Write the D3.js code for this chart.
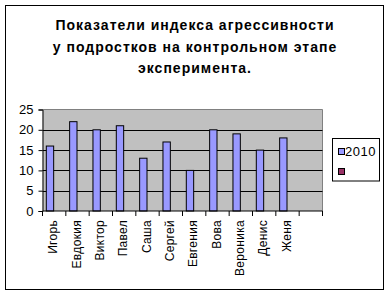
<!DOCTYPE html>
<html>
<head>
<meta charset="utf-8">
<script src="https://cdn.jsdelivr.net/npm/d3@7"></script>
<style>
	body { margin: 0; background: #fff; }
	text { font-family: "Liberation Sans", Arial, sans-serif; fill: #000; }
</style>
</head>
<body>
<div id="chart"></div>
<script>
'use strict';

let names = ['Игорь', 'Евдокия', 'Виктор', 'Павел', 'Саша', 'Сергей', 'Евгения', 'Вова', 'Вероника', 'Денис', 'Женя', ''];
let series = ['2010', ''];
let values2010 = [16, 22, 20, 21, 13, 17, 10, 20, 19, 15, 18, null];
let valuesEmpty = [null, null, null, null, null, null, null, null, null, null, null, null];
let yTicks = [0, 5, 10, 15, 20, 25];
let titleLines = ['Показатели индекса агрессивности', 'у подростков на контрольном этапе', 'эксперимента.'];
let colors = ['#9999ff', '#993366'];

let svg = d3.select('#chart')
	.append('svg')
		.attr('width', 390)
		.attr('height', 295)
	;

svg.append('rect')
	.attr('x', 5.5).attr('y', 5.5).attr('width', 378).attr('height', 284)
	.attr('fill', '#fff').attr('stroke', '#000').attr('stroke-width', 1)
	;

let title = svg.append('g');
for (let i=0 ; i<titleLines.length ; ++i) {
	title.append('text')
		.attr('x', 195)
		.attr('y', 30 + i*21.5)
		.attr('text-anchor', 'middle')
		.style('font-size', '14px')
		.style('font-weight', 'bold')
		.style('letter-spacing', '1px')
		.text(titleLines[i])
		;
}

let pLeft = 42.5, pRight = 322.5, pTop = 109.5, pBottom = 211;

let x0 = d3.scaleBand().domain(d3.range(names.length)).range([pLeft, pRight]).padding(0);
let x1 = d3.scaleBand().domain(series).range([3.8, x0.bandwidth() - 4.8]).padding(0);
let y = d3.scaleLinear().domain([0, 25]).range([pBottom, pTop]);

svg.append('rect')
	.attr('x', pLeft).attr('y', pTop).attr('width', pRight - pLeft).attr('height', pBottom - pTop)
	.attr('fill', '#c0c0c0')
	;
svg.append('path')
	.attr('d', `M${pLeft},${pTop}H${pRight}V${pBottom}`)
	.attr('fill', 'none').attr('stroke', '#808080')
	;

let grid = svg.append('g');
grid.selectAll('line').data(yTicks.filter(d => d > 0 && d < 25)).join('line')
	.attr('x1', pLeft).attr('x2', pRight)
	.attr('y1', d => Math.round(y(d)) + 0.5).attr('y2', d => Math.round(y(d)) + 0.5)
	.attr('stroke', '#000')
	;

let all = [values2010, valuesEmpty];
let bars = svg.append('g');
for (let s=0 ; s<series.length ; ++s) {
	bars.selectAll('rect.s'+s).data(all[s].map((v, i) => ({v: v, i: i})).filter(d => d.v != null)).join('rect')
		.classed('s'+s, true)
		.attr('x', d => x0(d.i) + x1(series[s]))
		.attr('y', d => y(d.v))
		.attr('width', x1.bandwidth())
		.attr('height', d => pBottom - y(d.v))
		.attr('fill', colors[s])
		.attr('stroke', '#000')
		;
}

let yAxis = svg.append('g')
	.attr('transform', `translate(${pLeft},0)`)
	.call(d3.axisLeft(y).tickValues(yTicks).tickSize(4).tickPadding(5))
	;
yAxis.selectAll('text').style('font-size', '13px');
yAxis.select('.domain').attr('stroke', '#000');

let xAxis = svg.append('g')
	.attr('transform', `translate(0,${pBottom})`)
	;
xAxis.append('line').attr('x1', pLeft).attr('x2', pRight).attr('stroke', '#000');
xAxis.selectAll('line.tick').data(d3.range(names.length + 1)).join('line')
	.classed('tick', true)
	.attr('x1', d => pLeft + d*x0.bandwidth()).attr('x2', d => pLeft + d*x0.bandwidth())
	.attr('y1', 0).attr('y2', 5)
	.attr('stroke', '#000')
	;
xAxis.selectAll('text').data(names).join('text')
	.attr('transform', (d, i) => `translate(${x0(i) + x0.bandwidth()/2 + 3},9) rotate(-90)`)
	.attr('text-anchor', 'end')
	.style('font-size', '12px')
	.style('letter-spacing', '0.3px')
	.text(d => d)
	;

let legend = svg.append('g');
legend.append('rect')
	.attr('x', 332.5).attr('y', 138.5).attr('width', 47).attr('height', 42.5)
	.attr('fill', '#fff').attr('stroke', '#000')
	;
for (let s=0 ; s<series.length ; ++s) {
	legend.append('rect')
		.attr('x', 338.5).attr('y', 148.5 + s*20).attr('width', 6).attr('height', 6)
		.attr('fill', colors[s]).attr('stroke', '#000')
		;
	legend.append('text')
		.attr('x', 345).attr('y', 156 + s*20)
		.style('font-size', '13px')
		.style('letter-spacing', '0.5px')
		.text(series[s])
		;
}
</script>
</body>
</html>
